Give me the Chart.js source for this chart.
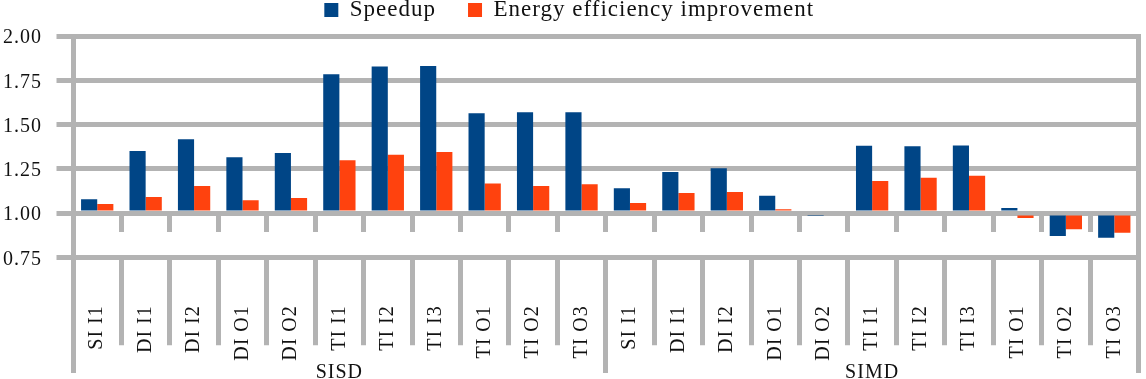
<!DOCTYPE html>
<html><head><meta charset="utf-8">
<script src="https://cdn.jsdelivr.net/npm/chart.js@4/dist/chart.umd.min.js"></script>
<style>html,body{margin:0;padding:0;background:#fff;} canvas{display:block;}</style>
</head><body>
<canvas id="c" width="1146" height="379"></canvas>
<script>
const categories = ['SI I1','DI I1','DI I2','DI O1','DI O2','TI I1','TI I2','TI I3','TI O1','TI O2','TI O3',
                    'SI I1','DI I1','DI I2','DI O1','DI O2','TI I1','TI I2','TI I3','TI O1','TI O2','TI O3'];
const groups = ['SISD','SIMD'];
const seriesNames = ['Speedup','Energy efficiency improvement'];
const speedup = [1.077,1.350,1.416,1.315,1.339,1.784,1.827,1.831,1.563,1.569,1.569,
                 1.140,1.232,1.253,1.098,0.989,1.380,1.377,1.382,1.028,0.870,0.860];
const energy  = [1.051,1.090,1.153,1.072,1.085,1.298,1.329,1.345,1.166,1.153,1.162,
                 1.056,1.113,1.119,1.021,1.000,1.181,1.199,1.211,0.972,0.908,0.889];
const yTicks = [0.75,1.00,1.25,1.50,1.75,2.00];
const baseline = 1.0;

const GRID = '#b3b3b3';
const FONT = 'Liberation Serif';

const spacingPlugin = {
  id: 'spacing',
  beforeLayout(chart){ chart.ctx.letterSpacing = '1px'; },
  beforeDraw(chart){ chart.ctx.letterSpacing = '1px'; }
};

new Chart(document.getElementById('c'), {
  type: 'bar',
  data: {
    labels: categories,
    datasets: [
      { label: seriesNames[0], data: speedup, base: baseline, backgroundColor: '#004586', borderWidth: 0, xAxisID: 'x', yAxisID: 'y' },
      { label: seriesNames[1], data: energy,  base: baseline, backgroundColor: '#ff420e', borderWidth: 0, xAxisID: 'x', yAxisID: 'y' }
    ]
  },
  plugins: [spacingPlugin],
  options: {
    responsive: false,
    devicePixelRatio: 1,
    animation: false,
    categoryPercentage: 0.667,
    barPercentage: 1.0,
    layout: { padding: { top: -33.5, right: 7.5, bottom: 0, left: 0 } },
    plugins: {
      legend: {
        position: 'top', align: 'center',
        labels: { boxWidth: 14, boxHeight: 14, padding: 32, color: '#111', font: { family: FONT, size: 23 } }
      },
      title: { display: true, text: '', weight: 500, padding: 0, font: { size: 4.5, lineHeight: 1 } },
      tooltip: { enabled: false }
    },
    scales: {
      x: {
        type: 'category', position: 'bottom', offset: true,
        grid: { display: true, offset: true, drawOnChartArea: false, drawTicks: true, tickLength: 88, color: GRID, lineWidth: 5 },
        border: { display: false },
        ticks: { autoSkip: false, minRotation: 90, maxRotation: 90, padding: -40, color: '#111', font: { family: FONT, size: 20 } },
        afterFit: s => { s.height = 121.75; }
      },
      x1: {
        axis: 'x', type: 'category', position: { y: baseline }, offset: true,
        grid: { display: true, offset: true, drawOnChartArea: false, drawTicks: true, tickLength: 19, color: GRID, lineWidth: 5 },
        border: { display: false },
        ticks: { display: false }
      },
      xg: {
        axis: 'x', type: 'category', labels: groups, position: { y: yTicks[0] }, offset: true,
        grid: { display: true, offset: true, drawOnChartArea: false, drawTicks: true, tickLength: 116, color: GRID, lineWidth: 5 },
        border: { display: false },
        ticks: { autoSkip: false, maxRotation: 0, padding: -11, color: '#111', font: { family: FONT, size: 20, lineHeight: 1 } }
      },
      y: {
        type: 'linear', position: 'left', min: yTicks[0], max: yTicks[yTicks.length - 1],
        afterBuildTicks: s => { s.ticks = yTicks.map(v => ({ value: v })); },
        ticks: { padding: 14.5, labelOffset: 2, color: '#111', font: { family: FONT, size: 20 }, callback: v => Number(v).toFixed(2) },
        grid: { color: GRID, lineWidth: 5, tickLength: 16.5, drawTicks: true },
        border: { display: true, color: GRID, width: 5 },
        afterFit: s => { s.width = 73; }
      },
      y2: {
        type: 'linear', position: 'right', display: true,
        grid: { display: false, drawTicks: false, lineWidth: 5 },
        ticks: { display: false },
        border: { display: true, color: GRID, width: 5 },
        afterFit: s => { s.width = 0; }
      }
    }
  }
});
</script>
</body></html>
